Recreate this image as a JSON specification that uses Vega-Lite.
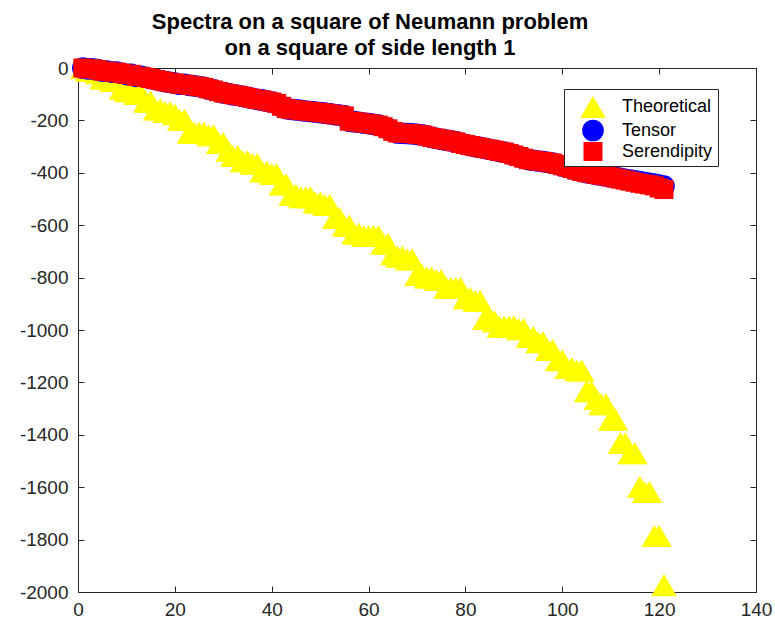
{
  "$schema": "https://vega.github.io/schema/vega-lite/v6.json",
  "width": 678,
  "height": 524,
  "autosize": "none",
  "padding": {"left": 78, "top": 68, "right": 19, "bottom": 32},
  "background": "white",
  "config": {
    "font": "Liberation Sans",
    "view": {"stroke": "#262626", "strokeWidth": 1},
    "axis": {
      "grid": false,
      "domain": false,
      "tickColor": "#262626",
      "tickSize": -6,
      "tickWidth": 1,
      "labelFont": "Liberation Sans",
      "labelFontSize": 19,
      "labelColor": "#262626",
      "title": null
    }
  },
  "title": {
    "text": ["Spectra on a square of Neumann problem", "on a square of side length 1"],
    "font": "Liberation Sans",
    "fontSize": 22,
    "fontWeight": "bold",
    "color": "black",
    "anchor": "middle",
    "dx": -47,
    "lineHeight": 26,
    "offset": -3
  },
  "datasets": {
    "spectra": [
      {"i":1,"v":0,"s":"Theoretical"},{"i":2,"v":-9.9,"s":"Theoretical"},{"i":3,"v":-9.9,"s":"Theoretical"},{"i":4,"v":-19.7,"s":"Theoretical"},{"i":5,"v":-39.5,"s":"Theoretical"},{"i":6,"v":-39.5,"s":"Theoretical"},{"i":7,"v":-49.3,"s":"Theoretical"},{"i":8,"v":-49.3,"s":"Theoretical"},{"i":9,"v":-79.0,"s":"Theoretical"},{"i":10,"v":-88.8,"s":"Theoretical"},
      {"i":11,"v":-88.8,"s":"Theoretical"},{"i":12,"v":-98.7,"s":"Theoretical"},{"i":13,"v":-98.7,"s":"Theoretical"},{"i":14,"v":-128.3,"s":"Theoretical"},{"i":15,"v":-128.3,"s":"Theoretical"},{"i":16,"v":-157.9,"s":"Theoretical"},{"i":17,"v":-157.9,"s":"Theoretical"},{"i":18,"v":-167.8,"s":"Theoretical"},{"i":19,"v":-167.8,"s":"Theoretical"},{"i":20,"v":-177.7,"s":"Theoretical"},
      {"i":21,"v":-197.4,"s":"Theoretical"},{"i":22,"v":-197.4,"s":"Theoretical"},{"i":23,"v":-246.7,"s":"Theoretical"},{"i":24,"v":-246.7,"s":"Theoretical"},{"i":25,"v":-246.7,"s":"Theoretical"},{"i":26,"v":-246.7,"s":"Theoretical"},{"i":27,"v":-256.6,"s":"Theoretical"},{"i":28,"v":-256.6,"s":"Theoretical"},{"i":29,"v":-286.2,"s":"Theoretical"},{"i":30,"v":-286.2,"s":"Theoretical"},
      {"i":31,"v":-315.8,"s":"Theoretical"},{"i":32,"v":-335.6,"s":"Theoretical"},{"i":33,"v":-335.6,"s":"Theoretical"},{"i":34,"v":-355.3,"s":"Theoretical"},{"i":35,"v":-355.3,"s":"Theoretical"},{"i":36,"v":-365.2,"s":"Theoretical"},{"i":37,"v":-365.2,"s":"Theoretical"},{"i":38,"v":-394.8,"s":"Theoretical"},{"i":39,"v":-394.8,"s":"Theoretical"},{"i":40,"v":-404.7,"s":"Theoretical"},
      {"i":41,"v":-404.7,"s":"Theoretical"},{"i":42,"v":-444.1,"s":"Theoretical"},{"i":43,"v":-444.1,"s":"Theoretical"},{"i":44,"v":-483.6,"s":"Theoretical"},{"i":45,"v":-483.6,"s":"Theoretical"},{"i":46,"v":-493.5,"s":"Theoretical"},{"i":47,"v":-493.5,"s":"Theoretical"},{"i":48,"v":-493.5,"s":"Theoretical"},{"i":49,"v":-513.2,"s":"Theoretical"},{"i":50,"v":-513.2,"s":"Theoretical"},
      {"i":51,"v":-523.1,"s":"Theoretical"},{"i":52,"v":-523.1,"s":"Theoretical"},{"i":53,"v":-572.4,"s":"Theoretical"},{"i":54,"v":-572.4,"s":"Theoretical"},{"i":55,"v":-602.0,"s":"Theoretical"},{"i":56,"v":-602.0,"s":"Theoretical"},{"i":57,"v":-631.7,"s":"Theoretical"},{"i":58,"v":-631.7,"s":"Theoretical"},{"i":59,"v":-641.5,"s":"Theoretical"},{"i":60,"v":-641.5,"s":"Theoretical"},
      {"i":61,"v":-641.5,"s":"Theoretical"},{"i":62,"v":-641.5,"s":"Theoretical"},{"i":63,"v":-671.1,"s":"Theoretical"},{"i":64,"v":-671.1,"s":"Theoretical"},{"i":65,"v":-710.6,"s":"Theoretical"},{"i":66,"v":-720.5,"s":"Theoretical"},{"i":67,"v":-720.5,"s":"Theoretical"},{"i":68,"v":-730.4,"s":"Theoretical"},{"i":69,"v":-730.4,"s":"Theoretical"},{"i":70,"v":-789.6,"s":"Theoretical"},
      {"i":71,"v":-789.6,"s":"Theoretical"},{"i":72,"v":-799.4,"s":"Theoretical"},{"i":73,"v":-799.4,"s":"Theoretical"},{"i":74,"v":-809.3,"s":"Theoretical"},{"i":75,"v":-809.3,"s":"Theoretical"},{"i":76,"v":-838.9,"s":"Theoretical"},{"i":77,"v":-838.9,"s":"Theoretical"},{"i":78,"v":-838.9,"s":"Theoretical"},{"i":79,"v":-838.9,"s":"Theoretical"},{"i":80,"v":-878.4,"s":"Theoretical"},
      {"i":81,"v":-878.4,"s":"Theoretical"},{"i":82,"v":-888.3,"s":"Theoretical"},{"i":83,"v":-888.3,"s":"Theoretical"},{"i":84,"v":-957.4,"s":"Theoretical"},{"i":85,"v":-957.4,"s":"Theoretical"},{"i":86,"v":-967.2,"s":"Theoretical"},{"i":87,"v":-987.0,"s":"Theoretical"},{"i":88,"v":-987.0,"s":"Theoretical"},{"i":89,"v":-987.0,"s":"Theoretical"},{"i":90,"v":-987.0,"s":"Theoretical"},
      {"i":91,"v":-996.8,"s":"Theoretical"},{"i":92,"v":-996.8,"s":"Theoretical"},{"i":93,"v":-1026.4,"s":"Theoretical"},{"i":94,"v":-1026.4,"s":"Theoretical"},{"i":95,"v":-1046.2,"s":"Theoretical"},{"i":96,"v":-1046.2,"s":"Theoretical"},{"i":97,"v":-1075.8,"s":"Theoretical"},{"i":98,"v":-1075.8,"s":"Theoretical"},{"i":99,"v":-1115.3,"s":"Theoretical"},{"i":100,"v":-1115.3,"s":"Theoretical"},
      {"i":101,"v":-1144.9,"s":"Theoretical"},{"i":102,"v":-1144.9,"s":"Theoretical"},{"i":103,"v":-1154.7,"s":"Theoretical"},{"i":104,"v":-1154.7,"s":"Theoretical"},{"i":105,"v":-1233.7,"s":"Theoretical"},{"i":106,"v":-1233.7,"s":"Theoretical"},{"i":107,"v":-1263.3,"s":"Theoretical"},{"i":108,"v":-1283.0,"s":"Theoretical"},{"i":109,"v":-1283.0,"s":"Theoretical"},{"i":110,"v":-1342.3,"s":"Theoretical"},
      {"i":111,"v":-1342.3,"s":"Theoretical"},{"i":112,"v":-1431.1,"s":"Theoretical"},{"i":113,"v":-1431.1,"s":"Theoretical"},{"i":114,"v":-1470.6,"s":"Theoretical"},{"i":115,"v":-1470.6,"s":"Theoretical"},{"i":116,"v":-1598.9,"s":"Theoretical"},{"i":117,"v":-1618.6,"s":"Theoretical"},{"i":118,"v":-1618.6,"s":"Theoretical"},{"i":119,"v":-1786.4,"s":"Theoretical"},{"i":120,"v":-1786.4,"s":"Theoretical"},
      {"i":121,"v":-1973.9,"s":"Theoretical"},

      {"i":1,"v":0,"s":"Tensor"},{"i":2,"v":-3,"s":"Tensor"},{"i":3,"v":-3,"s":"Tensor"},{"i":4,"v":-6,"s":"Tensor"},{"i":5,"v":-12,"s":"Tensor"},{"i":6,"v":-12,"s":"Tensor"},{"i":7,"v":-16,"s":"Tensor"},{"i":8,"v":-16,"s":"Tensor"},{"i":9,"v":-20,"s":"Tensor"},{"i":10,"v":-24,"s":"Tensor"},
      {"i":11,"v":-24,"s":"Tensor"},{"i":12,"v":-32,"s":"Tensor"},{"i":13,"v":-32,"s":"Tensor"},{"i":14,"v":-36,"s":"Tensor"},{"i":15,"v":-40,"s":"Tensor"},{"i":16,"v":-44,"s":"Tensor"},{"i":17,"v":-48,"s":"Tensor"},{"i":18,"v":-52,"s":"Tensor"},{"i":19,"v":-55,"s":"Tensor"},{"i":20,"v":-58,"s":"Tensor"},
      {"i":21,"v":-62,"s":"Tensor"},{"i":22,"v":-62,"s":"Tensor"},{"i":23,"v":-66,"s":"Tensor"},{"i":24,"v":-68,"s":"Tensor"},{"i":25,"v":-71,"s":"Tensor"},{"i":26,"v":-74,"s":"Tensor"},{"i":27,"v":-80,"s":"Tensor"},{"i":28,"v":-84,"s":"Tensor"},{"i":29,"v":-90,"s":"Tensor"},{"i":30,"v":-95,"s":"Tensor"},
      {"i":31,"v":-98,"s":"Tensor"},{"i":32,"v":-102,"s":"Tensor"},{"i":33,"v":-104,"s":"Tensor"},{"i":34,"v":-108,"s":"Tensor"},{"i":35,"v":-112,"s":"Tensor"},{"i":36,"v":-116,"s":"Tensor"},{"i":37,"v":-120,"s":"Tensor"},{"i":38,"v":-122,"s":"Tensor"},{"i":39,"v":-126,"s":"Tensor"},{"i":40,"v":-130,"s":"Tensor"},
      {"i":41,"v":-135,"s":"Tensor"},{"i":42,"v":-146,"s":"Tensor"},{"i":43,"v":-155,"s":"Tensor"},{"i":44,"v":-158,"s":"Tensor"},{"i":45,"v":-160,"s":"Tensor"},{"i":46,"v":-162,"s":"Tensor"},{"i":47,"v":-164,"s":"Tensor"},{"i":48,"v":-166,"s":"Tensor"},{"i":49,"v":-168,"s":"Tensor"},{"i":50,"v":-170,"s":"Tensor"},
      {"i":51,"v":-172,"s":"Tensor"},{"i":52,"v":-175,"s":"Tensor"},{"i":53,"v":-178,"s":"Tensor"},{"i":54,"v":-180,"s":"Tensor"},{"i":55,"v":-183,"s":"Tensor"},{"i":56,"v":-203,"s":"Tensor"},{"i":57,"v":-205,"s":"Tensor"},{"i":58,"v":-207,"s":"Tensor"},{"i":59,"v":-210,"s":"Tensor"},{"i":60,"v":-212,"s":"Tensor"},
      {"i":61,"v":-215,"s":"Tensor"},{"i":62,"v":-218,"s":"Tensor"},{"i":63,"v":-224,"s":"Tensor"},{"i":64,"v":-232,"s":"Tensor"},{"i":65,"v":-242,"s":"Tensor"},{"i":66,"v":-248,"s":"Tensor"},{"i":67,"v":-249,"s":"Tensor"},{"i":68,"v":-250,"s":"Tensor"},{"i":69,"v":-251,"s":"Tensor"},{"i":70,"v":-253,"s":"Tensor"},
      {"i":71,"v":-255,"s":"Tensor"},{"i":72,"v":-260,"s":"Tensor"},{"i":73,"v":-265,"s":"Tensor"},{"i":74,"v":-268,"s":"Tensor"},{"i":75,"v":-272,"s":"Tensor"},{"i":76,"v":-275,"s":"Tensor"},{"i":77,"v":-278,"s":"Tensor"},{"i":78,"v":-282,"s":"Tensor"},{"i":79,"v":-288,"s":"Tensor"},{"i":80,"v":-292,"s":"Tensor"},
      {"i":81,"v":-296,"s":"Tensor"},{"i":82,"v":-300,"s":"Tensor"},{"i":83,"v":-303,"s":"Tensor"},{"i":84,"v":-307,"s":"Tensor"},{"i":85,"v":-310,"s":"Tensor"},{"i":86,"v":-314,"s":"Tensor"},{"i":87,"v":-318,"s":"Tensor"},{"i":88,"v":-321,"s":"Tensor"},{"i":89,"v":-326,"s":"Tensor"},{"i":90,"v":-332,"s":"Tensor"},
      {"i":91,"v":-338,"s":"Tensor"},{"i":92,"v":-344,"s":"Tensor"},{"i":93,"v":-350,"s":"Tensor"},{"i":94,"v":-352,"s":"Tensor"},{"i":95,"v":-355,"s":"Tensor"},{"i":96,"v":-357,"s":"Tensor"},{"i":97,"v":-360,"s":"Tensor"},{"i":98,"v":-363,"s":"Tensor"},{"i":99,"v":-368,"s":"Tensor"},{"i":100,"v":-373,"s":"Tensor"},
      {"i":101,"v":-378,"s":"Tensor"},{"i":102,"v":-384,"s":"Tensor"},{"i":103,"v":-390,"s":"Tensor"},{"i":104,"v":-395,"s":"Tensor"},{"i":105,"v":-399,"s":"Tensor"},{"i":106,"v":-402,"s":"Tensor"},{"i":107,"v":-406,"s":"Tensor"},{"i":108,"v":-409,"s":"Tensor"},{"i":109,"v":-412,"s":"Tensor"},{"i":110,"v":-415,"s":"Tensor"},
      {"i":111,"v":-418,"s":"Tensor"},{"i":112,"v":-421,"s":"Tensor"},{"i":113,"v":-425,"s":"Tensor"},{"i":114,"v":-428,"s":"Tensor"},{"i":115,"v":-431,"s":"Tensor"},{"i":116,"v":-434,"s":"Tensor"},{"i":117,"v":-437,"s":"Tensor"},{"i":118,"v":-440,"s":"Tensor"},{"i":119,"v":-443,"s":"Tensor"},{"i":120,"v":-447,"s":"Tensor"},
      {"i":121,"v":-451,"s":"Tensor"},

      {"i":1,"v":0,"s":"Serendipity"},{"i":2,"v":-3,"s":"Serendipity"},{"i":3,"v":-3,"s":"Serendipity"},{"i":4,"v":-6,"s":"Serendipity"},{"i":5,"v":-12,"s":"Serendipity"},{"i":6,"v":-12,"s":"Serendipity"},{"i":7,"v":-16,"s":"Serendipity"},{"i":8,"v":-16,"s":"Serendipity"},{"i":9,"v":-20,"s":"Serendipity"},{"i":10,"v":-24,"s":"Serendipity"},
      {"i":11,"v":-24,"s":"Serendipity"},{"i":12,"v":-32,"s":"Serendipity"},{"i":13,"v":-32,"s":"Serendipity"},{"i":14,"v":-36,"s":"Serendipity"},{"i":15,"v":-40,"s":"Serendipity"},{"i":16,"v":-44,"s":"Serendipity"},{"i":17,"v":-48,"s":"Serendipity"},{"i":18,"v":-52,"s":"Serendipity"},{"i":19,"v":-55,"s":"Serendipity"},{"i":20,"v":-58,"s":"Serendipity"},
      {"i":21,"v":-62,"s":"Serendipity"},{"i":22,"v":-62,"s":"Serendipity"},{"i":23,"v":-66,"s":"Serendipity"},{"i":24,"v":-68,"s":"Serendipity"},{"i":25,"v":-71,"s":"Serendipity"},{"i":26,"v":-74,"s":"Serendipity"},{"i":27,"v":-80,"s":"Serendipity"},{"i":28,"v":-84,"s":"Serendipity"},{"i":29,"v":-90,"s":"Serendipity"},{"i":30,"v":-95,"s":"Serendipity"},
      {"i":31,"v":-98,"s":"Serendipity"},{"i":32,"v":-102,"s":"Serendipity"},{"i":33,"v":-104,"s":"Serendipity"},{"i":34,"v":-108,"s":"Serendipity"},{"i":35,"v":-112,"s":"Serendipity"},{"i":36,"v":-116,"s":"Serendipity"},{"i":37,"v":-120,"s":"Serendipity"},{"i":38,"v":-122,"s":"Serendipity"},{"i":39,"v":-126,"s":"Serendipity"},{"i":40,"v":-130,"s":"Serendipity"},
      {"i":41,"v":-135,"s":"Serendipity"},{"i":42,"v":-146,"s":"Serendipity"},{"i":43,"v":-155,"s":"Serendipity"},{"i":44,"v":-158,"s":"Serendipity"},{"i":45,"v":-160,"s":"Serendipity"},{"i":46,"v":-162,"s":"Serendipity"},{"i":47,"v":-164,"s":"Serendipity"},{"i":48,"v":-166,"s":"Serendipity"},{"i":49,"v":-168,"s":"Serendipity"},{"i":50,"v":-170,"s":"Serendipity"},
      {"i":51,"v":-172,"s":"Serendipity"},{"i":52,"v":-175,"s":"Serendipity"},{"i":53,"v":-178,"s":"Serendipity"},{"i":54,"v":-180,"s":"Serendipity"},{"i":55,"v":-183,"s":"Serendipity"},{"i":56,"v":-203,"s":"Serendipity"},{"i":57,"v":-205,"s":"Serendipity"},{"i":58,"v":-207,"s":"Serendipity"},{"i":59,"v":-210,"s":"Serendipity"},{"i":60,"v":-212,"s":"Serendipity"},
      {"i":61,"v":-215,"s":"Serendipity"},{"i":62,"v":-218,"s":"Serendipity"},{"i":63,"v":-224,"s":"Serendipity"},{"i":64,"v":-232,"s":"Serendipity"},{"i":65,"v":-242,"s":"Serendipity"},{"i":66,"v":-248,"s":"Serendipity"},{"i":67,"v":-249,"s":"Serendipity"},{"i":68,"v":-250,"s":"Serendipity"},{"i":69,"v":-251,"s":"Serendipity"},{"i":70,"v":-253,"s":"Serendipity"},
      {"i":71,"v":-255,"s":"Serendipity"},{"i":72,"v":-260,"s":"Serendipity"},{"i":73,"v":-265,"s":"Serendipity"},{"i":74,"v":-268,"s":"Serendipity"},{"i":75,"v":-272,"s":"Serendipity"},{"i":76,"v":-275,"s":"Serendipity"},{"i":77,"v":-278,"s":"Serendipity"},{"i":78,"v":-282,"s":"Serendipity"},{"i":79,"v":-288,"s":"Serendipity"},{"i":80,"v":-292,"s":"Serendipity"},
      {"i":81,"v":-296,"s":"Serendipity"},{"i":82,"v":-300,"s":"Serendipity"},{"i":83,"v":-303,"s":"Serendipity"},{"i":84,"v":-307,"s":"Serendipity"},{"i":85,"v":-310,"s":"Serendipity"},{"i":86,"v":-314,"s":"Serendipity"},{"i":87,"v":-318,"s":"Serendipity"},{"i":88,"v":-321,"s":"Serendipity"},{"i":89,"v":-326,"s":"Serendipity"},{"i":90,"v":-332,"s":"Serendipity"},
      {"i":91,"v":-338,"s":"Serendipity"},{"i":92,"v":-344,"s":"Serendipity"},{"i":93,"v":-350,"s":"Serendipity"},{"i":94,"v":-352,"s":"Serendipity"},{"i":95,"v":-355,"s":"Serendipity"},{"i":96,"v":-357,"s":"Serendipity"},{"i":97,"v":-360,"s":"Serendipity"},{"i":98,"v":-363,"s":"Serendipity"},{"i":99,"v":-368,"s":"Serendipity"},{"i":100,"v":-373,"s":"Serendipity"},
      {"i":101,"v":-378,"s":"Serendipity"},{"i":102,"v":-384,"s":"Serendipity"},{"i":103,"v":-390,"s":"Serendipity"},{"i":104,"v":-395,"s":"Serendipity"},{"i":105,"v":-399,"s":"Serendipity"},{"i":106,"v":-402,"s":"Serendipity"},{"i":107,"v":-406,"s":"Serendipity"},{"i":108,"v":-409,"s":"Serendipity"},{"i":109,"v":-412,"s":"Serendipity"},{"i":110,"v":-416,"s":"Serendipity"},
      {"i":111,"v":-420,"s":"Serendipity"},{"i":112,"v":-424,"s":"Serendipity"},{"i":113,"v":-428,"s":"Serendipity"},{"i":114,"v":-432,"s":"Serendipity"},{"i":115,"v":-436,"s":"Serendipity"},{"i":116,"v":-440,"s":"Serendipity"},{"i":117,"v":-443,"s":"Serendipity"},{"i":118,"v":-446,"s":"Serendipity"},{"i":119,"v":-450,"s":"Serendipity"},{"i":120,"v":-458,"s":"Serendipity"},
      {"i":121,"v":-464,"s":"Serendipity"}
    ]
  },
  "data": {"name": "spectra"},
  "layer": [
    {
      "mark": {"type": "point", "filled": true, "opacity": 1, "strokeWidth": 0},
      "encoding": {
        "x": {
          "field": "i", "type": "quantitative",
          "scale": {"domain": [0, 140], "nice": false, "zero": false},
          "axis": {"orient": "bottom", "values": [0, 20, 40, 60, 80, 100, 120, 140], "labelPadding": 14, "labelFlush": false}
        },
        "y": {
          "field": "v", "type": "quantitative",
          "scale": {"domain": [-2000, 0], "nice": false, "zero": false},
          "axis": {"orient": "left", "values": [-2000, -1800, -1600, -1400, -1200, -1000, -800, -600, -400, -200, 0], "labelPadding": 16, "labelFlush": false, "labelExpr": "datum.value + ''"}
        },
        "color": {
          "field": "s", "type": "nominal",
          "scale": {"domain": ["Theoretical", "Tensor", "Serendipity"], "range": ["#ffff00", "#0000ff", "#ff0000"]},
          "legend": {
            "title": null,
            "orient": "none",
            "legendX": 486,
            "legendY": 21,
            "strokeColor": "#262626",
            "fillColor": "white",
            "padding": 5,
            "symbolOffset": 11,
            "labelOffset": 16,
            "labelFontSize": 18,
            "labelFont": "Liberation Sans",
            "labelColor": "black",
            "rowPadding": 0.5,
            "symbolStrokeWidth": 0,
            "symbolOpacity": 1
          }
        },
        "shape": {
          "field": "s", "type": "nominal",
          "scale": {"domain": ["Theoretical", "Tensor", "Serendipity"], "range": ["triangle-up", "circle", "square"]}
        },
        "size": {
          "field": "s", "type": "nominal",
          "scale": {"type": "ordinal", "domain": ["Theoretical", "Tensor", "Serendipity"], "range": [650, 470, 360]}
        }
      }
    },
    {
      "mark": {"type": "point", "opacity": 0},
      "encoding": {
        "x": {
          "field": "i", "type": "quantitative",
          "axis": {"orient": "top", "values": [0, 20, 40, 60, 80, 100, 120, 140], "labels": false}
        },
        "y": {
          "field": "v", "type": "quantitative",
          "axis": {"orient": "right", "values": [-2000, -1800, -1600, -1400, -1200, -1000, -800, -600, -400, -200, 0], "labels": false}
        }
      }
    }
  ],
  "resolve": {"axis": {"x": "independent", "y": "independent"}}
}
